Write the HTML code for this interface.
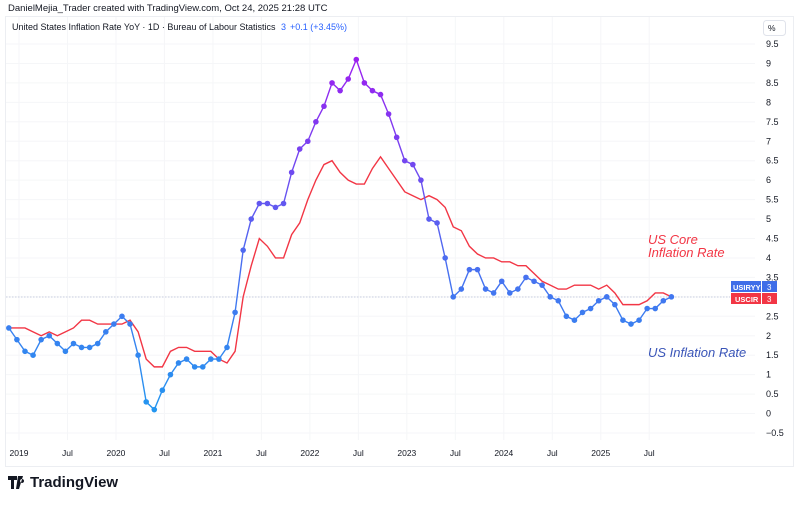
<!DOCTYPE html>
<html><head><meta charset="utf-8"><style>
body{margin:0;background:#fff;width:800px;height:501px;overflow:hidden;font-family:"Liberation Sans",sans-serif}
</style></head><body>
<svg id="s" width="800" height="501" xmlns="http://www.w3.org/2000/svg" font-family="Liberation Sans, sans-serif">
<defs>
<linearGradient id="g" gradientUnits="userSpaceOnUse" x1="0" y1="430" x2="0" y2="60">
<stop offset="0" stop-color="#1e9bf0"/><stop offset="0.45" stop-color="#4a6ef0"/><stop offset="1" stop-color="#9c1ff0"/>
</linearGradient>
</defs>
<rect x="5.5" y="16.5" width="788" height="450" fill="#fff" stroke="#eceef2"/>
<g id="grid" stroke="#f5f6f8" stroke-width="1"></g>
<text x="8" y="11" font-size="9.5" fill="#131722">DanielMejia_Trader created with TradingView.com, Oct 24, 2025 21:28 UTC</text>
<text x="12" y="30" font-size="9" fill="#131722">United States Inflation Rate YoY · 1D · Bureau of Labour Statistics <tspan fill="#2962ff" dx="3">3</tspan><tspan fill="#2962ff" dx="4">+0.1 (+3.45%)</tspan></text>
<rect x="763.5" y="20.5" width="22" height="15" rx="3" fill="#fff" stroke="#e0e3eb"/>
<text x="768" y="31" font-size="8.5" fill="#131722">%</text>
<g id="yl" font-size="9" fill="#131722"></g>
<g id="xl" font-size="8.5" fill="#131722"></g>
<line x1="6" y1="297" x2="730" y2="297" stroke="#c8cde0" stroke-dasharray="1.5,1.5"/>
<g id="series"></g>
<text x="648" y="244" font-size="13" font-style="italic" fill="#f23645">US Core</text>
<text x="648" y="257" font-size="13" font-style="italic" fill="#f23645">Inflation Rate</text>
<text x="648" y="357" font-size="13" font-style="italic" fill="#3a55b8">US Inflation Rate</text>
<rect x="731" y="281" width="30" height="11" fill="#3f6ee8"/><rect x="762" y="281" width="15" height="11" fill="#3f6ee8"/>
<text x="733" y="290" font-size="7.5" fill="#fff" font-weight="bold">USIRYY</text><text x="767" y="290" font-size="8" fill="#fff">3</text>
<rect x="731" y="293" width="30" height="11" fill="#f23645"/><rect x="762" y="293" width="15" height="11" fill="#f23645"/>
<text x="735" y="302" font-size="7.5" fill="#fff" font-weight="bold">USCIR</text><text x="767" y="302" font-size="8" fill="#fff">3</text>
<g transform="translate(8,474)">
<path d="M0 2h9v4H6v9H3V6H0z M10 2h5l-4 13H8z M14 5a2 2 0 1 0 0.1 0z" fill="#131722"/>
</g>
<text x="30" y="487" font-size="15" fill="#131722" font-weight="bold">TradingView</text>
</svg>
<script>
const NS="http://www.w3.org/2000/svg";
function Y(v){return 44+(9.5-v)*38.9}
function X(m){return 25+m*8.08}
function el(t,a,p){const e=document.createElementNS(NS,t);for(const k in a)e.setAttribute(k,a[k]);(p||document.getElementById('series')).appendChild(e);return e}
const grid=document.getElementById('grid'),yl=document.getElementById('yl'),xl=document.getElementById('xl');
for(let v=-0.5;v<=9.5;v+=0.5){const y=Y(v);el('line',{x1:6,x2:755,y1:y,y2:y},grid);const t=el('text',{x:766,y:y+3},yl);t.textContent=(Math.round(v*10)/10).toString().replace('-','−');}
const labs=['2019','Jul','2020','Jul','2021','Jul','2022','Jul','2023','Jul','2024','Jul','2025','Jul'];
labs.forEach((l,i)=>{const x=X(i*6)-6;el('line',{x1:x,x2:x,y1:17,y2:440},grid);const t=el('text',{x:x,y:456,'text-anchor':'middle'},xl);t.textContent=l;});
const cpi=[2.2,1.9,1.6,1.5,1.9,2.0,1.8,1.6,1.8,1.7,1.7,1.8,2.1,2.3,2.5,2.3,1.5,0.3,0.1,0.6,1.0,1.3,1.4,1.2,1.2,1.4,1.4,1.7,2.6,4.2,5.0,5.4,5.4,5.3,5.4,6.2,6.8,7.0,7.5,7.9,8.5,8.3,8.6,9.1,8.5,8.3,8.2,7.7,7.1,6.5,6.4,6.0,5.0,4.9,4.0,3.0,3.2,3.7,3.7,3.2,3.1,3.4,3.1,3.2,3.5,3.4,3.3,3.0,2.9,2.5,2.4,2.6,2.7,2.9,3.0,2.8,2.4,2.3,2.4,2.7,2.7,2.9,3.0];
const core=[2.2,2.2,2.2,2.1,2.0,2.1,2.0,2.1,2.2,2.4,2.4,2.3,2.3,2.3,2.3,2.4,2.1,1.4,1.2,1.2,1.6,1.7,1.7,1.6,1.6,1.6,1.4,1.3,1.6,3.0,3.8,4.5,4.3,4.0,4.0,4.6,4.9,5.5,6.0,6.4,6.5,6.2,6.0,5.9,5.9,6.3,6.6,6.3,6.0,5.7,5.6,5.5,5.6,5.5,5.3,4.8,4.7,4.3,4.1,4.0,4.0,3.9,3.9,3.8,3.8,3.6,3.4,3.3,3.2,3.2,3.3,3.3,3.3,3.2,3.3,3.1,2.8,2.8,2.8,2.9,3.1,3.1,3.0];
el('polyline',{points:core.map((v,i)=>X(i-2)+','+Y(v)).join(' '),fill:'none',stroke:'#f23645','stroke-width':1.4});
el('polyline',{points:cpi.map((v,i)=>X(i-2)+','+Y(v)).join(' '),fill:'none',stroke:'url(#g)','stroke-width':1.4});
cpi.forEach((v,i)=>el('circle',{cx:X(i-2),cy:Y(v),r:2.8,fill:'url(#g)'}));
</script>
</body></html>
